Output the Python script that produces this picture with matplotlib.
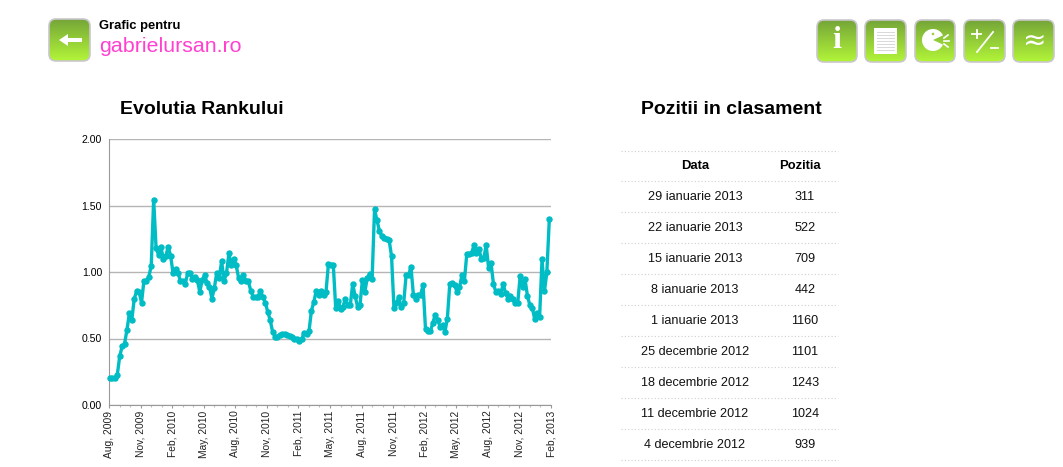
import numpy as np
import matplotlib
matplotlib.use("Agg")
import matplotlib.pyplot as plt
from matplotlib.patches import FancyBboxPatch, Rectangle, Wedge, Circle

plt.rcParams['font.family'] = ['Liberation Sans', 'DejaVu Sans']

# weekly rank
rank = [0.20, 0.20, 0.20, 0.225, 0.365, 0.44, 0.46, 0.565, 0.69, 0.64, 0.80, 0.855, 0.85, 0.77,
        0.935, 0.935, 0.965, 1.045, 1.545, 1.18, 1.13, 1.185, 1.10, 1.12, 1.19, 1.12, 0.99, 1.02, 0.995,
        0.935, 0.935, 0.91, 0.99, 0.99, 0.95, 0.96, 0.94, 0.85, 0.94, 0.975, 0.92, 0.89, 0.80, 0.88,
        0.995, 0.955, 1.08, 0.935, 0.99, 1.14, 1.055, 1.10, 1.05, 0.955, 0.93, 0.975, 0.935, 0.93, 0.86,
        0.815, 0.815, 0.815, 0.86, 0.81, 0.77, 0.70, 0.64, 0.55, 0.515, 0.515, 0.525, 0.535, 0.535, 0.53,
        0.52, 0.515, 0.50, 0.50, 0.48, 0.495, 0.545, 0.535, 0.555, 0.71, 0.775, 0.86, 0.83, 0.86, 0.83,
        0.85, 1.06, 1.05,
        1.055, 0.73, 0.785, 0.72, 0.74, 0.80, 0.75, 0.75, 0.91, 0.82, 0.74, 0.75, 0.94, 0.85, 0.955,
        0.985, 0.95, 1.47, 1.39, 1.31, 1.27, 1.255, 1.25, 1.24, 1.12, 0.73, 0.765, 0.81, 0.735,
        0.765, 0.975, 0.975, 1.04, 0.83, 0.80, 0.83, 0.83, 0.90, 0.57, 0.56, 0.555, 0.615, 0.68, 0.64,
        0.59, 0.60, 0.55, 0.65, 0.91, 0.915, 0.90, 0.85, 0.885, 0.975, 0.93, 1.135, 1.135, 1.145, 1.20,
        1.145, 1.175, 1.10, 1.105, 1.20, 1.03, 1.065, 0.91, 0.85, 0.86, 0.835, 0.91, 0.84, 0.80, 0.82,
        0.795, 0.765, 0.77, 0.97, 0.89, 0.945, 0.82, 0.75, 0.73, 0.645, 0.69, 0.66, 1.095, 0.855, 1.00,
        1.395]
quarters = ['Aug, 2009', 'Nov, 2009', 'Feb, 2010', 'May, 2010', 'Aug, 2010', 'Nov, 2010', 'Feb, 2011',
            'May, 2011', 'Aug, 2011', 'Nov, 2011', 'Feb, 2012', 'May, 2012', 'Aug, 2012', 'Nov, 2012',
            'Feb, 2013']
yticks = [0.0, 0.5, 1.0, 1.5, 2.0]

dates = ['29 ianuarie 2013', '22 ianuarie 2013', '15 ianuarie 2013', '8 ianuarie 2013', '1 ianuarie 2013',
         '25 decembrie 2012', '18 decembrie 2012', '11 decembrie 2012', '4 decembrie 2012']
positions = [311, 522, 709, 442, 1160, 1101, 1243, 1024, 939]

W, H = 1063, 467
fig = plt.figure(figsize=(W / 100, H / 100), dpi=100)


def px(pt):
    return pt * 72 / 100


# page overlay in pixel coordinates
page = fig.add_axes([0, 0, 1, 1])
page.set_xlim(0, W)
page.set_ylim(H, 0)
page.axis('off')

grad = np.linspace(0, 1, 64).reshape(-1, 1)
top = np.array([0.46, 0.65, 0.22])
bot = np.array([0.70, 0.96, 0.22])
grad_img = (top + (bot - top) * grad)[:, None, :]


def button(x0, y0, x1, y1):
    box = FancyBboxPatch((x0 + 5, y0 + 5), x1 - x0 - 10, y1 - y0 - 10, boxstyle='round,pad=5,rounding_size=7',
                         fc='none', ec='#c9c7cc', lw=1.2, zorder=3)
    page.add_patch(box)
    im = page.imshow(grad_img, extent=(x0, x1, y1, y0), aspect='auto', zorder=2)
    im.set_clip_path(box)


page_buttons = [(49, 19, 90, 61), (817, 20, 857, 62), (865, 20, 906, 62), (915, 20, 955, 62),
                (964, 20, 1005, 62), (1013, 20, 1054, 62)]
for b in page_buttons:
    button(*b)
page.set_xlim(0, W)
page.set_ylim(H, 0)

# back arrow
page.add_patch(Rectangle((66, 38), 16, 4, fc='white', ec='none', zorder=4))
page.fill([59, 68, 68], [40, 34, 46], 'white', zorder=4)
# info
page.text(836.5, 41, 'i', fontsize=px(32), fontweight='bold', family='Liberation Serif', color='white',
          ha='center', va='center', zorder=4)
# page
page.add_patch(Rectangle((874, 28), 23, 26, fc='white', ec='none', zorder=4))
for yy in range(32, 52, 3):
    page.plot([877, 894], [yy, yy], color='#d8d8d8', lw=0.7, zorder=5)
# pacman
page.add_patch(Wedge((933, 40), 11, 25, 335, fc='white', ec='none', zorder=4))
page.add_patch(Circle((933, 34), 1.3, fc='#9ed03a', ec='none', zorder=5))
page.plot([944, 948], [38, 35], color='white', lw=1.2, zorder=4)
page.plot([944, 949], [41, 41], color='white', lw=1.2, zorder=4)
page.plot([944, 948], [44, 47], color='white', lw=1.2, zorder=4)
# plus / minus
page.plot([977, 993], [52, 32], color='white', lw=1.3, zorder=4)
page.plot([972, 981], [34, 34], color='white', lw=1.3, zorder=4)
page.plot([976.5, 976.5], [30, 38], color='white', lw=1.3, zorder=4)
page.plot([991, 998], [48, 48], color='white', lw=1.3, zorder=4)
# approx
page.text(1033.5, 41, '≈', fontsize=px(28), color='white', ha='center', va='center',
          family='DejaVu Sans', zorder=4)

page.text(99, 26, 'Grafic pentru', fontsize=px(13), fontweight='bold', color='black', va='center')
page.text(99, 46, 'gabrielursan.ro', fontsize=px(21.4), color='#ff40d0', va='center')

page.text(202, 110, 'Evolutia Rankului', fontsize=px(19.5), fontweight='bold', ha='center', va='center')
page.text(731, 110, 'Pozitii in clasament', fontsize=px(19.5), fontweight='bold', ha='center', va='center')

# table
page.text(695, 166, 'Data', fontsize=px(13), fontweight='bold', ha='center', va='center')
page.text(800, 166, 'Pozitia', fontsize=px(13), fontweight='bold', ha='center', va='center')
row_y = 197
for d, p in zip(dates, positions):
    page.text(695, row_y, d, fontsize=px(12.6), ha='center', va='center', color='#111111')
    page.text(805, row_y, str(p), fontsize=px(12.6), ha='center', va='center', color='#111111')
    row_y += 31
for yy in [150, 180, 211, 242, 273, 304, 335, 366, 397, 428, 459]:
    page.plot([621, 838], [yy + 0.5, yy + 0.5], color='#cfcfcf', lw=0.8, ls=(0, (1, 2)))

# chart
ax = fig.add_axes([109 / W, 1 - 405 / H, 442 / W, 266 / H])
x = np.arange(len(rank))
n = len(rank) - 1
ax.plot(x, rank, color='#00bcc4', lw=2.4, marker='o', ms=3.6, clip_on=False, zorder=3)
ax.set_xlim(-0.4, n + 0.7)
ax.set_ylim(0, 2)
ax.set_yticks(yticks)
ax.set_yticklabels(['%.2f' % v for v in yticks], fontsize=px(10.5))
major = np.linspace(-0.4, n + 0.7, len(quarters))
ax.set_xticks(major)
ax.set_xticklabels(quarters, rotation=90, fontsize=px(10.2), color='#222222')
ax.set_xticks(np.linspace(-0.4, n + 0.7, 3 * (len(quarters) - 1) + 1), minor=True)
ax.tick_params(axis='x', which='major', length=2.5, width=0.8, color='#999999', pad=1.5, direction='out')
ax.tick_params(axis='x', which='minor', length=1.5, width=0.8, color='#bbbbbb')
ax.tick_params(axis='y', length=0, pad=5)
ax.grid(axis='y', color='#b5b5b5', lw=1)
ax.set_axisbelow(True)
for s in ['top', 'right']:
    ax.spines[s].set_visible(False)
for s in ['left', 'bottom']:
    ax.spines[s].set_color('#999999')

fig.savefig('out.png', dpi=100)
